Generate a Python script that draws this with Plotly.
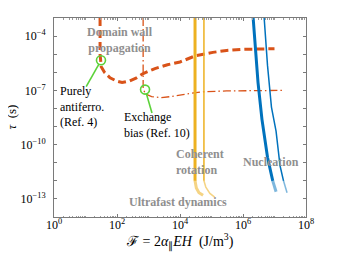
import plotly.graph_objects as go

# ---- data ----
dw_F   = [29, 29, 31.6, 40, 60, 100, 145, 250, 400, 676, 1600, 4000, 1e4, 3e4, 1.1e5, 3e5, 1e6, 1e7]
dw_tau = [1e-3, 1e-5, 2e-6, 1e-6, 5e-7, 3.2e-7, 2.7e-7, 3.3e-7, 4.7e-7, 8.5e-7, 1.6e-6, 2.6e-6, 3.7e-6, 8e-6, 1.26e-5, 1.6e-5, 1.86e-5, 2e-5]

eb_F   = [676, 676, 794, 1260, 2500, 5000, 1.6e4, 5e4, 3e5, 1.86e7]
eb_tau = [1e-3, 1.26e-7, 6.3e-8, 4.5e-8, 4e-8, 4.5e-8, 6.3e-8, 8.3e-8, 9.3e-8, 1e-7]

cr1_F   = [3e4, 3e4]
cr1_tau = [1e-3, 1e-12]
cr1b_F   = [3e4, 3.3e4, 4e4, 5.4e4]
cr1b_tau = [1e-12, 4e-13, 2.2e-13, 1.6e-13]
cr2_F   = [5.75e4, 5.75e4]
cr2_tau = [1e-3, 1e-12]
cr2b_F   = [5.75e4, 6.6e4, 8.9e4, 1.26e5]
cr2b_tau = [1e-12, 4.5e-13, 2e-13, 1.26e-13]

nu1_F   = [2.1e6, 2.5e6, 3e6, 4e6, 5e6, 6e6, 8.8e6]
nu1_tau = [1e-3, 1.2e-5, 2.7e-7, 2.5e-9, 1.4e-10, 2e-11, 1e-12]
nu1b_F   = [8.8e6, 1.12e7]
nu1b_tau = [1e-12, 2.5e-13]
nu2_F   = [4.7e6, 6e6, 8e6, 1.12e7, 1.5e7, 1.93e7]
nu2_tau = [1e-3, 2.4e-6, 1.2e-8, 5.6e-10, 6.8e-12, 1e-12]
nu2b_F   = [1.93e7, 2.5e7]
nu2b_tau = [1e-12, 2.2e-13]

circ_F   = [31, 776]
circ_tau = [4.6e-6, 1.1e-7]

x_tickvals = [1, 1e2, 1e4, 1e6, 1e8]
x_ticktext = ["10<sup>0</sup>", "10<sup>2</sup>", "10<sup>4</sup>", "10<sup>6</sup>", "10<sup>8</sup>"]
y_tickvals = [1e-13, 1e-10, 1e-7, 1e-4]
y_ticktext = ["10<sup>−13</sup>", "10<sup>−10</sup>", "10<sup>−7</sup>", "10<sup>−4</sup>"]

ORANGE = "#D95319"
BLUE = "#0072BD"
YELLOW = "#EDB120"
GREEN = "#5CD23A"
GRAYTXT = "#8f8f8f"
FONT = "Times New Roman, Liberation Serif, serif"

fig = go.Figure()

def add(x, y, color, width, dash="solid", opacity=1.0):
    fig.add_trace(go.Scatter(x=x, y=y, mode="lines", opacity=opacity,
                             line=dict(color=color, width=width, dash=dash),
                             hoverinfo="skip", showlegend=False))

add(dw_F, dw_tau, ORANGE, 3, dash="8px,4px")
add(eb_F, eb_tau, ORANGE, 1.3, dash="8px,3px,1.5px,3px")
add(cr1_F, cr1_tau, YELLOW, 3)
add(cr1b_F, cr1b_tau, YELLOW, 3, opacity=0.55)
add(cr2_F, cr2_tau, YELLOW, 1.5)
add(cr2b_F, cr2b_tau, YELLOW, 1.5, opacity=0.55)
add(nu1_F, nu1_tau, BLUE, 3)
add(nu1b_F, nu1b_tau, BLUE, 3, opacity=0.5)
add(nu2_F, nu2_tau, BLUE, 1.5)
add(nu2b_F, nu2b_tau, BLUE, 1.5, opacity=0.5)

# green leader lines
add([27, 10.5], [2.9e-6, 1.6e-7], GREEN, 1.6)
add([850, 1290], [6.8e-8, 5.6e-9], GREEN, 1.6)
fig.add_trace(go.Scatter(x=circ_F, y=circ_tau, mode="markers",
                         marker=dict(symbol="circle-open", size=9, color=GREEN,
                                     line=dict(width=1.6, color=GREEN)),
                         hoverinfo="skip", showlegend=False))

# ultrafast band
fig.add_shape(type="rect", xref="paper", x0=0, x1=1, yref="y", y0=-14, y1=-12,
              fillcolor="#ebebeb", line=dict(width=0), layer="below")

def txt(x, y, s, color="black", bold=False, align="left", xanchor="left"):
    if bold:
        s = "<b>" + s.replace("<br>", "</b><br><b>") + "</b>"
    fig.add_annotation(x=x, y=y, xref="x", yref="y", text=s, showarrow=False,
                       xanchor=xanchor, yanchor="middle", align=align,
                       font=dict(family=FONT, size=12, color=color))

txt(2.1, -4.2, "Domain wall<br>propagation", GRAYTXT, True, "center", "center")
txt(0.14, -7.9, "Purely<br>antiferro.<br>(Ref. 4)")
txt(2.17, -8.9, "Exchange<br>bias (Ref. 10)")
txt(3.82, -10.95, "Coherent<br>rotation", GRAYTXT, True)
txt(5.95, -10.98, "Nucleation", GRAYTXT, True)
txt(3.94, -13.17, "Ultrafast dynamics", GRAYTXT, True, "center", "center")

# axis titles
fig.add_annotation(xref="paper", yref="paper", x=0.5, y=0, yshift=-24, xanchor="center", yanchor="middle",
                   text="ℱ = 2<i>α</i><sub>∥</sub><i>EH</i>  (J/m<sup>3</sup>)", showarrow=False,
                   font=dict(family=FONT, size=14, color="black"))
fig.add_annotation(xref="paper", yref="paper", x=0, y=0.5, xshift=-43, xanchor="center", yanchor="middle",
                   text="<i>τ</i>  (s)", textangle=-90, showarrow=False,
                   font=dict(family=FONT, size=13, color="black"))

x_minor = [m * 10**d for d in range(0, 8) for m in range(1, 10) if not (m == 1 and d % 2 == 0)]
y_minor = [10.0**d for d in range(-14, -2)]

# the page body keeps its default 8px margin, so the figure is offset by 8px
fig.update_layout(
    width=330, height=245,
    margin=dict(l=46, r=32, t=10, b=36, autoexpand=False),
    paper_bgcolor="white", plot_bgcolor="white",
    font=dict(family=FONT, size=12, color="black"),
    xaxis=dict(type="log", range=[0, 8], showgrid=False, zeroline=False, automargin=False,
               showline=True, linecolor="#7a7a7a", linewidth=1, mirror="allticks",
               ticks="inside", ticklen=3, tickcolor="#7a7a7a", ticklabelstandoff=-3,
               tickfont=dict(family=FONT, size=12),
               tickvals=x_tickvals, ticktext=x_ticktext,
               minor=dict(tickvals=x_minor, ticks="inside", ticklen=1.5, tickcolor="#9a9a9a")),
    yaxis=dict(type="log", range=[-14, -3], showgrid=False, zeroline=False, automargin=False,
               showline=True, linecolor="#7a7a7a", linewidth=1, mirror="allticks",
               ticks="inside", ticklen=3, tickcolor="#7a7a7a", ticklabelstandoff=5,
               tickfont=dict(family=FONT, size=12),
               tickvals=y_tickvals, ticktext=y_ticktext,
               minor=dict(tickvals=y_minor, ticks="inside", ticklen=3, tickcolor="#7a7a7a")),
)

fig.write_html("out.html")
